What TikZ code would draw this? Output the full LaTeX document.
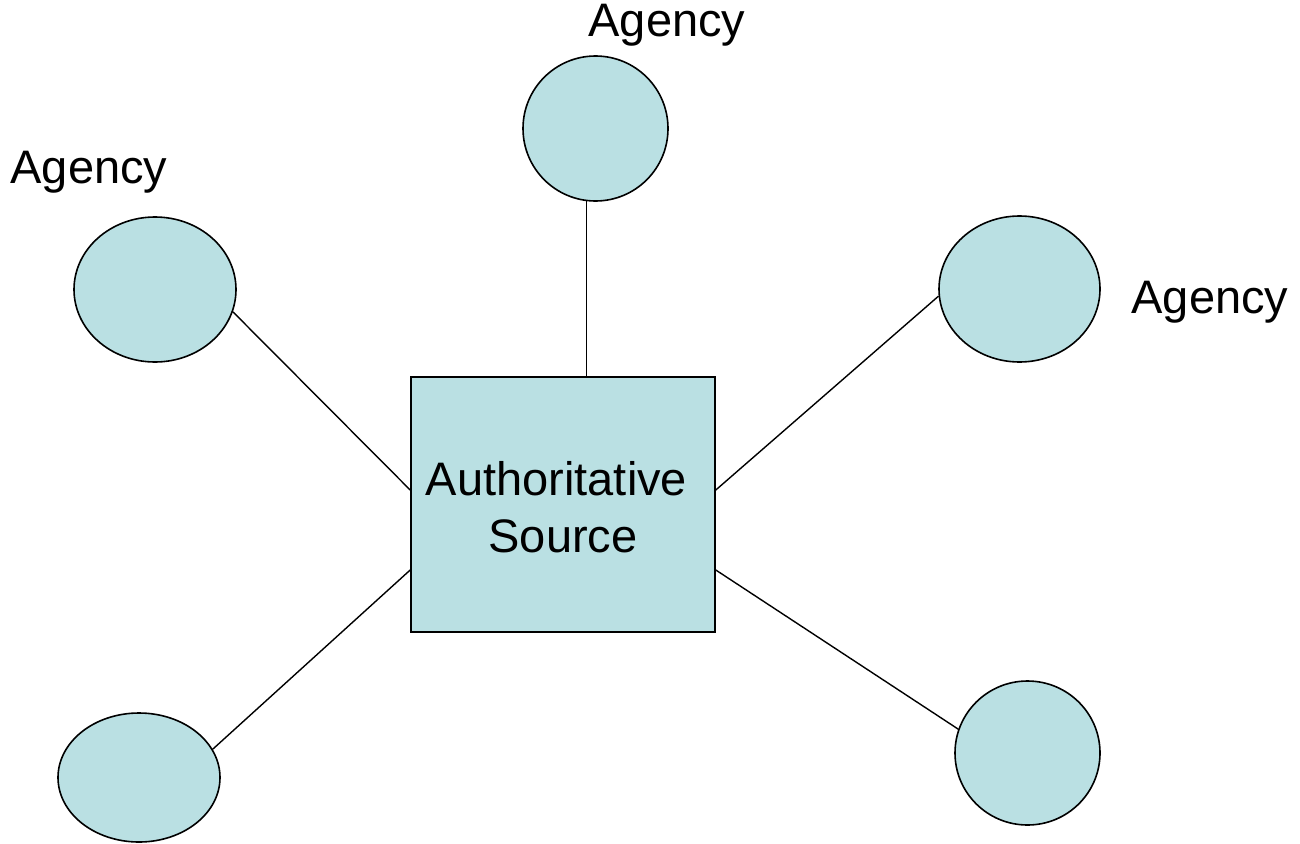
\documentclass[tikz,border=0pt]{standalone}
\usepackage{fontspec}
\setmainfont{Liberation Sans}
\usetikzlibrary{shapes.geometric}
\definecolor{agfill}{HTML}{BAE0E3}
\tikzset{
  agency/.style={ellipse, draw=black, line width=1.6pt, fill=agfill, inner sep=0pt},
  srcbox/.style={rectangle, draw=black, line width=1.6pt, fill=agfill, inner sep=0pt, minimum width=304pt, minimum height=255pt},
  lbl/.style={font=\fontsize{47}{57}\selectfont, inner sep=0pt, anchor=base},
  conn/.style={draw=black, line width=1.4pt}
}
\begin{document}
\begin{tikzpicture}[x=1pt,y=-1pt]
\useasboundingbox (0,0) rectangle (1300,843);
\node[srcbox] (S) at (563,504.5) {};
\node[agency, minimum width=145pt, minimum height=145pt] (T) at (595.5,128.5) {};
\node[agency, minimum width=162pt, minimum height=145pt] (L) at (155,289.5) {};
\node[agency, minimum width=161pt, minimum height=146pt] (R) at (1019.5,289) {};
\node[agency, minimum width=162pt, minimum height=129pt] (BL) at (139,777.5) {};
\node[agency, minimum width=145pt, minimum height=144pt] (BR) at (1027.5,753) {};
\node[lbl] (tT) at (667,37) {Agency};
\node[lbl] (tL) at (89,183) {Agency};
\node[lbl] (tR) at (1210,313) {Agency};
\node[lbl, align=center] (tS) at (563,552) {Authoritative\hspace*{13pt}\\Source};
\coordinate (sT) at (T.263 |- S.north);
\draw[conn] (T.263) -- (sT);
\draw[conn] (L.-16.6) -- ([yshift=14.5pt]S.west);
\draw[conn] (R.-175.4) -- ([yshift=14.5pt]S.east);
\draw[conn] (BL.21.9) -- ([yshift=-65.5pt]S.west);
\draw[conn] (BR.161) -- ([yshift=-65.5pt]S.east);
\end{tikzpicture}
\end{document}
